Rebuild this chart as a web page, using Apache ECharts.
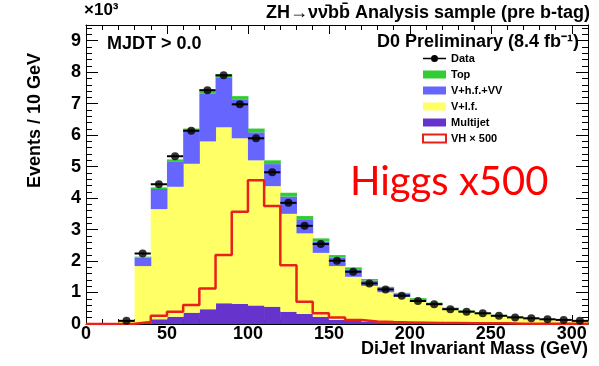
<!DOCTYPE html>
<html><head><meta charset="utf-8">
<script src="https://cdn.jsdelivr.net/npm/echarts@6/dist/echarts.min.js"></script>
<style>html,body{margin:0;padding:0;background:#fff}#c{width:599px;height:366px}</style>
</head><body><div id="c"></div>
<script>
// bin lower edges (GeV), 10 GeV bins
const binLow = [0,10,20,30,40,50,60,70,80,90,100,110,120,130,140,150,160,170,180,190,200,210,220,230,240,250,260,270,280,290,300];
// stacked MC components (x10^3 events / 10 GeV), bottom to top
const multijet = [0,0,0.02,0.03,0.15,0.23,0.36,0.47,0.66,0.64,0.59,0.55,0.39,0.32,0.23,0.13,0.10,0.07,0.06,0.05,0.04,0.03,0.03,0.02,0.02,0.02,0.01,0.01,0.01,0.01,0.01];
const vlf      = [0,0,0.06,1.81,3.50,4.13,4.73,5.33,5.59,5.26,4.61,3.83,3.11,2.56,2.03,1.71,1.40,1.14,0.95,0.81,0.68,0.57,0.43,0.36,0.30,0.24,0.20,0.16,0.13,0.11,0.09];
const vhf      = [0,0,0.01,0.27,0.64,0.81,1.04,1.53,1.59,1.22,0.89,0.70,0.55,0.45,0.36,0.27,0.24,0.17,0.13,0.10,0.07,0.06,0.04,0.03,0.03,0.02,0.02,0.02,0.01,0.01,0.01];
const topq     = [0,0,0,0.03,0.05,0.06,0.08,0.10,0.10,0.12,0.12,0.12,0.12,0.10,0.10,0.08,0.06,0.05,0.04,0.03,0.03,0.02,0.02,0.02,0.01,0.01,0.01,0.01,0.01,0.01,0];
// VH signal x500
const vh500    = [0,0,0.01,0.06,0.26,0.39,0.60,1.13,2.19,3.57,4.57,3.75,1.87,0.71,0.34,0.21,0.13,0.08,0.06,0.05,0.04,0.03,0.03,0.02,0.02,0.02,0.01,0.01,0.01,0.01,0.01];
// data points at bin centres
const dataX = [25,35,45,55,65,75,85,95,105,115,125,135,145,155,165,175,185,195,205,215,225,235,245,255,265,275,285,295,305];
const dataY = [0.10,2.24,4.44,5.33,6.14,7.43,7.90,6.98,5.90,4.82,3.85,3.12,2.54,2.01,1.66,1.29,1.10,0.90,0.73,0.63,0.47,0.39,0.34,0.26,0.21,0.18,0.15,0.13,0.10];
const xTicks = [0,50,100,150,200,250,300];
const yTicks = [0,1,2,3,4,5,6,7,8,9];
const BINW = 10;

const FONT = '"Liberation Sans", Arial, sans-serif';
const comps = [
  {name:'Multijet', vals:multijet, color:'#6633cc'},
  {name:'V+l.f.', vals:vlf, color:'#ffff66'},
  {name:'V+h.f.+VV', vals:vhf, color:'#6666ff'},
  {name:'Top', vals:topq, color:'#33cc33'}
];
const cum = binLow.map(()=>0);
const stackSeries = comps.map(c => {
  const d = binLow.map((x,i) => { const b = cum[i]; cum[i] += c.vals[i]; return [x, b, cum[i]]; });
  return {
    type:'custom', name:c.name, itemStyle:{color:c.color}, z:2,
    encode:{x:0, y:[1,2]},
    renderItem:(params, api) => {
      const p0 = api.coord([api.value(0), api.value(1)]);
      const p1 = api.coord([api.value(0)+BINW, api.value(2)]);
      return {type:'rect', shape:{x:p0[0], y:p1[1], width:p1[0]-p0[0]+0.5, height:p0[1]-p1[1]},
              style:{fill:c.color}};
    },
    data:d
  };
});

const vhLine = binLow.map((x,i)=>[x, vh500[i]]);
vhLine.push([binLow[binLow.length-1]+BINW, vh500[vh500.length-1]]);

const chart = echarts.init(document.getElementById('c'), null, {renderer:'canvas'});
const axisCommon = {
  type:'value', min:0, max:310, interval:50,
  axisLine:{show:true, onZero:false, lineStyle:{color:'#000', width:1}},
  axisTick:{show:true, inside:true, length:9, lineStyle:{color:'#000'}},
  minorTick:{show:true, splitNumber:5, length:5, lineStyle:{color:'#000'}},
  splitLine:{show:false}
};
const yCommon = {
  type:'value', min:0, max:9.5, interval:1,
  axisLine:{show:true, onZero:false, lineStyle:{color:'#000', width:1}},
  axisTick:{show:true, inside:true, length:12, lineStyle:{color:'#000'}},
  minorTick:{show:true, splitNumber:5, length:6, lineStyle:{color:'#000'}},
  splitLine:{show:false}
};
const dataIcon = 'path://M0,3.3L8,3.3L8,4.7L0,4.7Z M15,3.3L23,3.3L23,4.7L15,4.7Z M8,4A3.5,3.5 0 1,1 15,4A3.5,3.5 0 1,1 8,4Z';

chart.setOption({
  animation:false,
  backgroundColor:'#fff',
  grid:{left:86, right:11, top:25, bottom:42, containLabel:false},
  xAxis:[
    Object.assign({}, axisCommon, {position:'bottom',
      axisLabel:{show:true, color:'#000', fontFamily:FONT, fontWeight:'bold', fontSize:18, margin:1, showMaxLabel:false,
        formatter:v => xTicks.includes(v) ? String(v) : ''}}),
    Object.assign({}, axisCommon, {position:'top', axisLabel:{show:false}})
  ],
  yAxis:[
    Object.assign({}, yCommon, {position:'left',
      axisLabel:{show:true, color:'#000', fontFamily:FONT, fontWeight:'bold', fontSize:18, margin:5, showMaxLabel:false,
        formatter:v => yTicks.includes(v) ? String(v) : ''}}),
    Object.assign({}, yCommon, {position:'right', axisLabel:{show:false}})
  ],
  legend:{
    orient:'vertical', left:422, top:53, itemWidth:23, itemHeight:8, itemGap:5, padding:0,
    textStyle:{fontFamily:FONT, fontWeight:'bold', fontSize:11, color:'#000'},
    data:[
      {name:'Data', icon:dataIcon, itemStyle:{color:'#000', borderWidth:0}},
      {name:'Top', icon:'rect'},
      {name:'V+h.f.+VV', icon:'rect'},
      {name:'V+l.f.', icon:'rect'},
      {name:'Multijet', icon:'rect'},
      {name:'VH × 500', icon:'rect', itemStyle:{color:'#fff', borderColor:'#e8211a', borderWidth:2}}
    ]
  },
  series: stackSeries.concat([
    {type:'line', name:'VH × 500', step:'end', data:vhLine, symbol:'none', z:5,
     itemStyle:{color:'#e8211a'}, lineStyle:{color:'#e8211a', width:2.5}},
    {type:'custom', name:'Data', z:6, itemStyle:{color:'#000'},
     encode:{x:0, y:1},
     renderItem:(params, api) => {
       const x = api.value(0), y = api.value(1);
       const a = api.coord([x-BINW/2, y]), b = api.coord([x+BINW/2, y]);
       return {type:'line', shape:{x1:a[0], y1:a[1], x2:b[0], y2:b[1]}, style:{stroke:'#000', lineWidth:2}};
     },
     data:dataX.map((x,i)=>[x, dataY[i]])},
    {type:'scatter', name:'Data', z:7, symbol:'circle', symbolSize:8, itemStyle:{color:'#000'},
     data:dataX.map((x,i)=>[x, dataY[i]])}
  ]),
  graphic:[
    {type:'text', left:84, top:2, style:{text:'×10³', font:'bold 17px '+FONT, fill:'#000'}},
    {type:'text', right:9, top:4, style:{text:'ZH→νν\u0304bb\u0304 Analysis sample (pre b-tag)', font:'bold 18px '+FONT, fill:'#000'}},
    {type:'text', left:107, top:35, style:{text:'MJDT > 0.0', font:'bold 18px '+FONT, fill:'#000'}},
    {type:'text', right:20, top:33, style:{text:'D0 Preliminary (8.4 fb⁻¹)', font:'bold 18px '+FONT, fill:'#000'}},
    {type:'text', right:11, top:340, style:{text:'DiJet Invariant Mass (GeV)', font:'bold 18px '+FONT, fill:'#000'}},
    {type:'text', x:26, y:188, rotation:Math.PI/2, style:{text:'Events / 10 GeV', font:'bold 18px '+FONT, fill:'#000', textAlign:'left', textVerticalAlign:'top'}},
    {type:'text', left:350, top:162, style:{text:'Higgs x500', font:'40px Lato, "Open Sans", sans-serif', fill:'#ff0000'}}
  ]
});
</script></body></html>
